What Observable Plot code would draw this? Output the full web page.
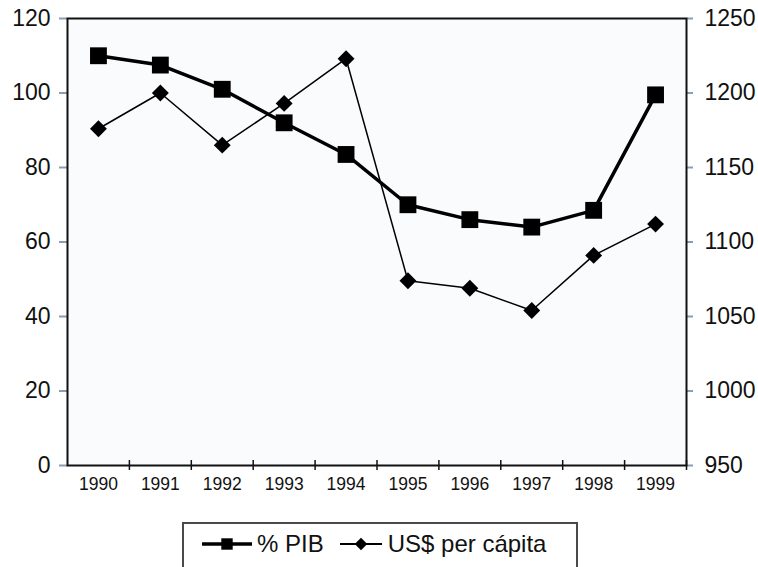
<!DOCTYPE html>
<html>
<head>
<meta charset="utf-8">
<script src="https://cdn.jsdelivr.net/npm/d3@7"></script>
<script src="https://cdn.jsdelivr.net/npm/@observablehq/plot@0.6"></script>
<style>
  html, body { margin: 0; padding: 0; background: #ffffff; width: 758px; height: 567px; overflow: hidden; }
  body { position: relative; font-family: "Liberation Sans", Arial, Helvetica, sans-serif; }
  #chart { position: absolute; left: 0; top: 0; }
  #legend {
    position: absolute; left: 182px; top: 522px; width: 396px; height: 60px;
    border: 2px solid #4a4a4a; box-sizing: border-box; background: #fff;
    display: flex; align-items: flex-start; padding-top: 6px; padding-left: 18px;
    font-size: 24px; color: #111; white-space: nowrap;
  }
  #legend .item { display: flex; align-items: center; }
  #legend svg { display: block; }
</style>
</head>
<body>
<div id="chart"></div>
<div id="legend"></div>
<script>
// ---- data ----
const years = [1990, 1991, 1992, 1993, 1994, 1995, 1996, 1997, 1998, 1999];
const pibPct = [110, 107.5, 101, 92, 83.5, 70, 66, 64, 68.5, 99.5];
const usdPerCapita = [1176, 1200, 1165, 1193, 1223, 1074, 1069, 1054, 1091, 1112];
const leftTicks = [0, 20, 40, 60, 80, 100, 120];
const rightTicks = [950, 1000, 1050, 1100, 1150, 1200, 1250];
const seriesNames = ["% PIB", "US$ per cápita"];

// map right-axis values onto the left scale
const rMin = rightTicks[0], rMax = rightTicks[rightTicks.length - 1];
const lMax = leftTicks[leftTicks.length - 1];
const toLeft = v => (v - rMin) / (rMax - rMin) * lMax;
const toRight = v => rMin + v / lMax * (rMax - rMin);

const pib = years.map((y, i) => ({year: y, v: pibPct[i]}));
const usd = years.map((y, i) => ({year: y, v: toLeft(usdPerCapita[i])}));
const bounds = years.map(y => y + 0.5);

const axisFont = "'Liberation Sans', Arial, Helvetica, sans-serif";

const plot = Plot.plot({
  width: 758,
  height: 505,
  marginLeft: 67,
  marginRight: 72,
  marginTop: 18,
  marginBottom: 40,
  style: {fontFamily: axisFont, background: "transparent", color: "#111"},
  x: {domain: [years[0] - 0.5, years[years.length - 1] + 0.5]},
  y: {domain: [0, lMax]},
  marks: [
    Plot.frame({fill: "#f9fbfd", stroke: "none"}),
    Plot.axisY({anchor: "left", ticks: leftTicks, tickSize: 8, stroke: "#8b9db3", strokeWidth: 2,
      tickPadding: 9, fontSize: 23, label: null, tickFormat: d => String(d)}),
    Plot.axisY({anchor: "right", ticks: leftTicks, tickSize: 6, stroke: "#8b9db3", strokeWidth: 2,
      tickPadding: 12, fontSize: 23, label: null, tickFormat: d => String(Math.round(toRight(d)))}),
    Plot.axisX({anchor: "bottom", ticks: years, tickSize: 0, tickPadding: 12, fontSize: 17.5,
      label: null, tickFormat: d => String(d)}),
    Plot.axisX({anchor: "bottom", ticks: bounds, tickSize: 10, dy: -5, stroke: "#111", strokeWidth: 1.5,
      label: null, tickFormat: () => ""}),
    Plot.frame({stroke: "#111", strokeWidth: 2}),
    Plot.line(pib, {x: "year", y: "v", stroke: "#000", strokeWidth: 3.5}),
    Plot.dot(pib, {x: "year", y: "v", symbol: "square", r: 9.5, fill: "#000", stroke: "none"}),
    Plot.line(usd, {x: "year", y: "v", stroke: "#000", strokeWidth: 1.5}),
    Plot.dot(usd, {x: "year", y: "v", symbol: "diamond2", r: 7.6, fill: "#000", stroke: "none"})
  ]
});
document.getElementById("chart").appendChild(plot);

// legend
const legend = d3.select("#legend");
const symbols = [
  {w: 50, thick: 3.5, shape: "square", gap: 5},
  {w: 42, thick: 1.8, shape: "diamond", gap: 6}
];
seriesNames.forEach((name, i) => {
  const s = symbols[i];
  const item = legend.append("div").attr("class", "item").style("margin-right", i === 0 ? "16px" : "0");
  const svg = item.append("svg").attr("width", s.w).attr("height", 26).style("margin-right", s.gap + "px");
  svg.append("line").attr("x1", 0).attr("x2", s.w).attr("y1", 13).attr("y2", 13)
    .attr("stroke", "#000").attr("stroke-width", s.thick);
  const sym = s.shape === "square" ? d3.symbolSquare : d3.symbolDiamond2;
  const size = s.shape === "square" ? 130 : 100;
  svg.append("path").attr("d", d3.symbol(sym, size)()).attr("transform", `translate(${s.w / 2},13)`).attr("fill", "#000");
  item.append("span").text(name);
});
</script>
</body>
</html>
